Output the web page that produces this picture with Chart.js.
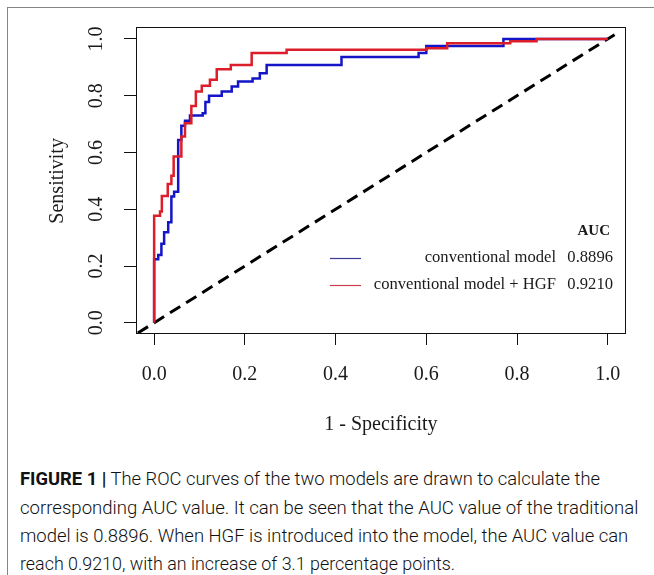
<!DOCTYPE html>
<html><head><meta charset="utf-8">
<script src="https://cdn.jsdelivr.net/npm/chart.js@4.4.0/dist/chart.umd.min.js"></script>
<style>
html,body{margin:0;padding:0;background:#fff;width:654px;height:575px;overflow:hidden;}
#frame{position:absolute;left:7px;top:7px;width:700px;height:700px;border-left:1px solid #858585;border-top:1px solid #858585;}
#wrap{position:absolute;left:0;top:0;width:654px;height:455px;}
.cap{position:absolute;left:20px;white-space:nowrap;font-family:Roboto,'Liberation Sans',sans-serif;font-weight:300;font-size:18px;color:#111;transform-origin:0 50%;line-height:20px;}
.cap b{font-weight:700;}
</style></head>
<body>
<div id="frame"></div>
<div id="wrap"><canvas id="c" width="654" height="455"></canvas></div>
<div class="cap" data-w="580" style="top:469px"><b>FIGURE 1 |</b> The ROC curves of the two models are drawn to calculate the</div>
<div class="cap" data-w="618" style="top:498px">corresponding AUC value. It can be seen that the AUC value of the traditional</div>
<div class="cap" data-w="608" style="top:526px">model is 0.8896. When HGF is introduced into the model, the AUC value can</div>
<div class="cap" data-w="435" style="top:554px">reach 0.9210, with an increase of 3.1 percentage points.</div>
<script>
// ---- data ----
const tickValues = [0, 0.2, 0.4, 0.6, 0.8, 1.0];
const tickLabels = ['0.0', '0.2', '0.4', '0.6', '0.8', '1.0'];
const seriesNames = ['conventional model', 'conventional model + HGF'];
const aucValues = ['0.8896', '0.9210'];

const convFPR = [0, 0, 0.009, 0.016, 0.022, 0.031, 0.038, 0.044, 0.053, 0.060, 0.068, 0.079, 0.107, 0.113, 0.121, 0.149, 0.171, 0.185, 0.217, 0.233, 0.248, 0.413, 0.583, 0.600, 0.770, 1.0];
const convTPR = [0, 0.224, 0.239, 0.278, 0.319, 0.354, 0.445, 0.462, 0.644, 0.694, 0.712, 0.730, 0.738, 0.778, 0.800, 0.815, 0.832, 0.850, 0.861, 0.879, 0.908, 0.936, 0.950, 0.975, 1.0, 1.0];

const hgfFPR = [0, 0, 0.013, 0.017, 0.030, 0.038, 0.043, 0.060, 0.068, 0.082, 0.092, 0.105, 0.123, 0.138, 0.169, 0.215, 0.292, 0.600, 0.646, 0.785, 0.843, 1.0];
const hgfTPR = [0, 0.377, 0.392, 0.447, 0.489, 0.518, 0.586, 0.656, 0.703, 0.764, 0.815, 0.835, 0.856, 0.893, 0.908, 0.950, 0.962, 0.967, 0.985, 0.992, 1.0, 1.0];

const refFPR = [-0.036, 1.015];
const refTPR = [-0.036, 1.015];

const blueColor = '#1414c8';
const redColor = '#dc1e2a';

function zip(xs, ys) { return xs.map((x, i) => ({x: x, y: ys[i]})); }

const SERIF = "'Liberation Serif', 'DejaVu Serif', serif";

const textPlugin = {
  id: 'textPlugin',
  afterDraw(chart) {
    const ctx = chart.ctx;
    const a = chart.chartArea;
    const xs = chart.scales.x, ys = chart.scales.y;
    ctx.save();
    ctx.strokeStyle = '#111';
    ctx.lineWidth = 1;
    ctx.strokeRect(a.left + 0.5, a.top + 0.5, a.right - a.left, a.bottom - a.top);
    ctx.fillStyle = '#1a1a1a';
    ctx.font = '20px ' + SERIF;
    ctx.textAlign = 'center';
    ctx.textBaseline = 'middle';
    tickValues.forEach((v, i) => {
      ctx.fillText(tickLabels[i], xs.getPixelForValue(v), 375);
    });
    tickValues.forEach((v, i) => {
      ctx.save();
      ctx.translate(97, ys.getPixelForValue(v));
      ctx.rotate(-Math.PI / 2);
      ctx.fillText(tickLabels[i], 0, 0);
      ctx.restore();
    });
    ctx.fillText('1 - Specificity', (xs.getPixelForValue(0) + xs.getPixelForValue(1)) / 2, 425);
    ctx.save();
    ctx.translate(58, (ys.getPixelForValue(0) + ys.getPixelForValue(1)) / 2);
    ctx.rotate(-Math.PI / 2);
    ctx.fillText('Sensitivity', 0, 0);
    ctx.restore();

    // legend
    ctx.font = 'bold 15px ' + SERIF;
    ctx.textAlign = 'right';
    ctx.fillText('AUC', 610, 231);
    ctx.font = '16.6px ' + SERIF;
    const rows = [258, 285];
    const cols = ['#3a3a96', '#c8404e'];
    rows.forEach((yy, i) => {
      ctx.strokeStyle = cols[i];
      ctx.lineWidth = 1.2;
      ctx.beginPath();
      ctx.moveTo(330, yy + 0.5);
      ctx.lineTo(361, yy + 0.5);
      ctx.stroke();
      ctx.textAlign = 'right';
      ctx.fillText(seriesNames[i], 556, yy);
      ctx.fillText(aucValues[i], 613, yy);
    });
    ctx.restore();
  }
};

new Chart(document.getElementById('c'), {
  type: 'line',
  data: {
    datasets: [
      { data: zip(refFPR, refTPR), borderColor: '#000', borderWidth: 3, borderDash: [12, 7], pointRadius: 0, fill: false, order: 3 },
      { data: zip(convFPR, convTPR), borderColor: blueColor, borderWidth: 2.5, stepped: true, pointRadius: 0, fill: false, order: 2 },
      { data: zip(hgfFPR, hgfTPR), borderColor: redColor, borderWidth: 2.5, stepped: true, pointRadius: 0, fill: false, order: 1 }
    ]
  },
  options: {
    responsive: false,
    animation: false,
    layout: { padding: { left: 0, top: 27, right: 29, bottom: 0 } },
    plugins: { legend: { display: false }, tooltip: { enabled: false } },
    scales: {
      x: {
        type: 'linear', min: -0.040, max: 1.038,
        afterBuildTicks: (axis) => { axis.ticks = tickValues.map(v => ({ value: v })); },
        afterFit: (s) => { s.height = 122; },
        ticks: { display: false },
        border: { display: false },
        grid: { drawOnChartArea: false, drawTicks: true, tickLength: 12, color: '#111', lineWidth: 1 }
      },
      y: {
        type: 'linear', min: -0.036, max: 1.042,
        afterBuildTicks: (axis) => { axis.ticks = tickValues.map(v => ({ value: v })); },
        afterFit: (s) => { s.width = 136; },
        ticks: { display: false },
        border: { display: false },
        grid: { drawOnChartArea: false, drawTicks: true, tickLength: 12, color: '#111', lineWidth: 1 }
      }
    }
  },
  plugins: [textPlugin]
});

document.querySelectorAll('.cap').forEach(el => {
  const w = el.scrollWidth;
  const target = parseFloat(el.dataset.w);
  el.style.transform = 'scaleX(' + (target / w) + ')';
});
</script>
</body></html>
